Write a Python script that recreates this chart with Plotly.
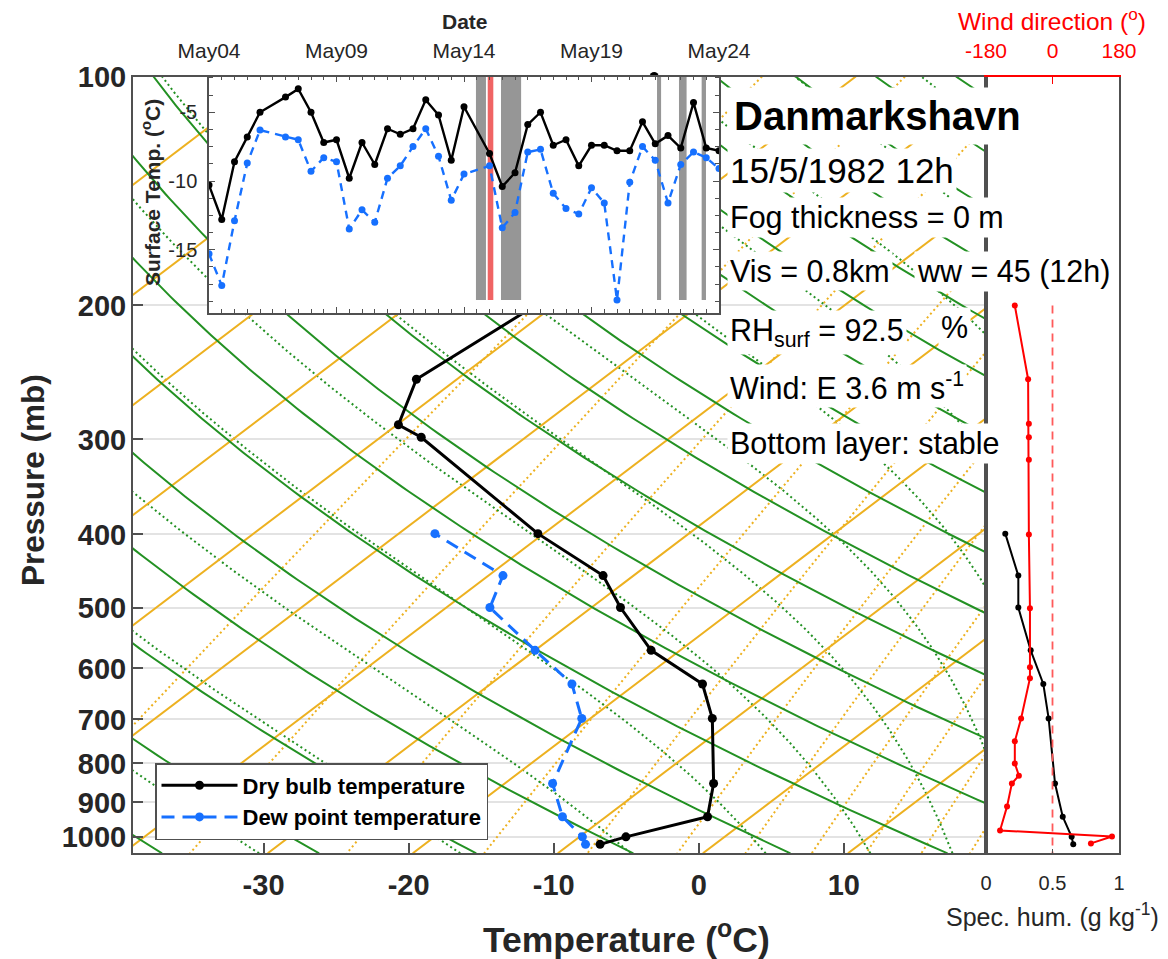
import numpy as np
import plotly.graph_objects as go

FIG_W, FIG_H = 1168, 959
FONT = "Liberation Sans, Arial, Helvetica, sans-serif"
INK = "#262626"
FRAME = "#505050"
ORANGE = "#EDB120"
GREEN = "#239123"
BLUE = "#1670FF"

# ---------------- radiosonde profile, Danmarkshavn 15/5/1982 12h ----------------
P_TEMP = [1022, 999, 940, 850, 698, 629, 568, 499, 453, 399, 298, 287, 250, 200, 100]
T_TEMP = [-7.9, -6.8, -3.0, -5.6, -11.6, -15.4, -22.0, -28.0, -32.1, -40.4, -57.2, -59.9, -62.8, -61.3, -73.9]
P_DEW = [1022, 999, 940, 850, 698, 629, 568, 499, 453, 399]
T_DEW = [-8.9, -9.8, -13.0, -16.7, -20.6, -24.4, -30.0, -37.0, -39.0, -47.5]

# specific humidity and wind direction (right-hand panel)
P_Q = [1022, 999, 940, 850, 698, 629, 568, 499, 453, 399]
Q_GKG = [0.656, 0.644, 0.577, 0.519, 0.471, 0.431, 0.336, 0.243, 0.243, 0.145]
P_WDIR = [1019, 998, 980, 911, 850, 830, 800, 748, 698, 618, 598, 500, 400, 319, 298, 286, 250, 200]
WDIR = [104, 161, -142, -123, -110, -91, -102, -102, -85, -61, -61, -61, -64, -64, -64, -64, -66, -102]

# ---------------- surface observations (inset) ----------------
OBS_TIMES = [
    "1982-05-04 00:00", "1982-05-04 12:00", "1982-05-05 00:00", "1982-05-05 12:00",
    "1982-05-06 00:00", "1982-05-07 00:00", "1982-05-07 12:00", "1982-05-08 00:00",
    "1982-05-08 12:00", "1982-05-09 00:00", "1982-05-09 12:00", "1982-05-10 00:00",
    "1982-05-10 12:00", "1982-05-11 00:00", "1982-05-11 12:00", "1982-05-12 00:00",
    "1982-05-12 12:00", "1982-05-13 00:00", "1982-05-13 12:00", "1982-05-14 00:00",
    "1982-05-15 00:00", "1982-05-15 12:00", "1982-05-16 00:00", "1982-05-16 12:00",
    "1982-05-17 00:00", "1982-05-17 12:00", "1982-05-18 00:00", "1982-05-18 12:00",
    "1982-05-19 00:00", "1982-05-19 12:00", "1982-05-20 00:00", "1982-05-20 12:00",
    "1982-05-21 00:00", "1982-05-21 12:00", "1982-05-22 00:00", "1982-05-22 12:00",
    "1982-05-23 00:00", "1982-05-23 12:00", "1982-05-24 00:00",
]
T_SURF = [-10.3, -12.8, -8.6, -6.8, -5.0, -3.9, -3.3, -5.0, -7.2, -7.0, -9.8, -7.2, -8.8,
          -6.2, -6.6, -6.2, -4.1, -5.2, -8.5, -4.6, -8.0, -10.4, -9.4, -5.9, -5.0, -7.4,
          -7.0, -8.9, -7.4, -7.4, -7.8, -7.8, -5.7, -7.3, -6.7, -7.6, -4.3, -7.6, -7.8]
TD_SURF = [-15.3, -17.6, -12.9, -8.7, -6.3, -6.8, -7.0, -9.3, -8.3, -8.6, -13.5, -12.1, -13.0,
           -9.8, -8.9, -7.5, -6.2, -8.2, -11.4, -9.5, -8.9, -13.4, -12.3, -7.9, -7.7, -10.9,
           -12.0, -12.4, -10.5, -11.6, -18.65, -10.1, -7.5, -8.5, -11.6, -8.8, -7.9, -8.3, -9.1]
FOG_SPANS = [
    ("1982-05-14 11:15", "1982-05-14 20:40"),
    ("1982-05-15 10:50", "1982-05-16 05:45"),
    ("1982-05-21 13:40", "1982-05-21 17:30"),
    ("1982-05-22 10:20", "1982-05-22 17:30"),
    ("1982-05-23 07:40", "1982-05-23 11:45"),
]
CURRENT_SPAN = ("1982-05-14 22:20", "1982-05-15 03:35")
DATE_TICKS = ["1982-05-04", "1982-05-09", "1982-05-14", "1982-05-19", "1982-05-24"]
DATE_LABELS = ["May04", "May09", "May14", "May19", "May24"]
SURF_T_RANGE = [-19.6, -2.4]
SURF_T_TICKS = [-15, -10, -5]

# ---------------- skew-T geometry and reference lines ----------------
K_SKEW = 30.0      # horizontal shift (degC) per e-fold of pressure
P_REF = 1060.0
P_TOP, P_BOT = 100.0, 1050.0
X_RANGE = [-39.0, 19.8]
P_TICKS = [100, 200, 300, 400, 500, 600, 700, 800, 900, 1000]
T_TICKS = [-30, -20, -10, 0, 10]
WDIR_TICKS = [-180, 0, 180]
ISOTHERMS_C = list(range(-140, 50, 10))
THETA_K = [232.6 + 10.68 * i for i in range(-3, 20)]          # dry adiabats
THETA_E_K = [270.7 + 15.4 * i for i in range(-4, 12)]          # saturated adiabats
MIXING_GKG = [0.05, 0.18, 0.5, 1.13, 2, 3.2, 4.5, 6.2, 8, 10.3, 12.8, 16]

RD, CP, LV, EPS = 287.04, 1005.7, 2.501e6, 0.622


def skew(t_c, p):
    return np.asarray(t_c) + K_SKEW * np.log(P_REF / np.asarray(p, dtype=float))


P_LINE = np.exp(np.linspace(np.log(P_TOP), np.log(P_BOT), 160))


def sat_vp(t_c):
    return 6.112 * np.exp(17.67 * t_c / (t_c + 243.5))


def sat_mr(t_c, p):
    es = sat_vp(t_c)
    return EPS * es / max(p - es, 1e-3)


def theta_e(t_c, p):
    tk = t_c + 273.15
    return tk * (1000.0 / p) ** 0.2857 * np.exp(LV * sat_mr(t_c, p) / (CP * tk))


def t_from_theta_e(the, p):
    lo, hi = -100.0, 60.0
    for _ in range(60):
        mid = 0.5 * (lo + hi)
        if theta_e(mid, p) < the:
            lo = mid
        else:
            hi = mid
    return 0.5 * (lo + hi)


def moist_rate(t_k, p):
    rs = sat_mr(t_k - 273.15, p)
    return (RD * t_k + LV * rs) / (CP + LV * LV * rs * EPS / (RD * t_k * t_k))


def moist_adiabat(t0_c):
    lnp = np.linspace(np.log(P_BOT), np.log(P_TOP), 300)
    t = t0_c + 273.15
    out = [t]
    for a, b in zip(lnp[:-1], lnp[1:]):
        h = b - a
        k1 = moist_rate(t, np.exp(a))
        k2 = moist_rate(t + h * k1 / 2, np.exp(a + h / 2))
        k3 = moist_rate(t + h * k2 / 2, np.exp(a + h / 2))
        k4 = moist_rate(t + h * k3, np.exp(b))
        t = t + h * (k1 + 2 * k2 + 2 * k3 + k4) / 6
        out.append(t)
    return np.exp(lnp), np.array(out) - 273.15


def join(curves):
    xs, ys = [], []
    for x, y in curves:
        xs += list(x) + [None]
        ys += list(y) + [None]
    return xs, ys


def labels(vals):
    return [f"{v:g}" for v in vals]


iso = join([(skew(np.full_like(P_LINE, t0), P_LINE), P_LINE) for t0 in ISOTHERMS_C])
dry = join([(skew(th * (P_LINE / 1000.0) ** 0.2857 - 273.15, P_LINE), P_LINE) for th in THETA_K])
moist_curves = []
for the in THETA_E_K:
    pm, tm = moist_adiabat(t_from_theta_e(the, P_BOT))
    moist_curves.append((skew(tm, pm), pm))
moist = join(moist_curves)
mix_curves = []
for w in MIXING_GKG:
    e = (w / 1000.0) * P_LINE / (EPS + w / 1000.0)
    le = np.log(e / 6.112)
    tw = 243.5 * le / (17.67 - le)
    mix_curves.append((skew(tw, P_LINE), P_LINE))
mix = join(mix_curves)

fig = go.Figure()
line_kw = dict(mode="lines", hoverinfo="skip", showlegend=False, xaxis="x", yaxis="y")
fig.add_trace(go.Scatter(x=mix[0], y=mix[1], line=dict(color=ORANGE, width=2, dash="2px,3px"), **line_kw))
fig.add_trace(go.Scatter(x=moist[0], y=moist[1], line=dict(color=GREEN, width=2, dash="2px,3px"), **line_kw))
fig.add_trace(go.Scatter(x=iso[0], y=iso[1], line=dict(color=ORANGE, width=2), **line_kw))
fig.add_trace(go.Scatter(x=dry[0], y=dry[1], line=dict(color=GREEN, width=2), **line_kw))

fig.add_trace(go.Scatter(
    x=skew(T_TEMP, P_TEMP), y=P_TEMP, mode="lines+markers", name="Dry bulb temperature",
    line=dict(color="black", width=3), marker=dict(color="black", size=9),
    cliponaxis=False, xaxis="x", yaxis="y"))
fig.add_trace(go.Scatter(
    x=skew(T_DEW, P_DEW), y=P_DEW, mode="lines+markers", name="Dew point temperature",
    line=dict(color=BLUE, width=3, dash="13px,8px"), marker=dict(color=BLUE, size=9),
    xaxis="x", yaxis="y"))

# inset: surface temperature and dew point time series
fig.add_trace(go.Scatter(
    x=OBS_TIMES, y=T_SURF, mode="lines+markers", showlegend=False,
    line=dict(color="black", width=2.4), marker=dict(color="black", size=7),
    xaxis="x2", yaxis="y2"))
fig.add_trace(go.Scatter(
    x=OBS_TIMES, y=TD_SURF, mode="lines+markers", showlegend=False,
    line=dict(color=BLUE, width=2.4, dash="8px,6px"), marker=dict(color=BLUE, size=7),
    xaxis="x2", yaxis="y2"))

# right panel: specific humidity and wind direction
fig.add_trace(go.Scatter(
    x=Q_GKG, y=P_Q, mode="lines+markers", showlegend=False,
    line=dict(color="black", width=2), marker=dict(color="black", size=6),
    xaxis="x3", yaxis="y3"))
fig.add_trace(go.Scatter(
    x=[0, 0], y=[200, P_BOT], mode="lines", showlegend=False,
    line=dict(color="#FF5A5A", width=1.8, dash="8px,6px"), xaxis="x4", yaxis="y3"))
fig.add_trace(go.Scatter(
    x=WDIR, y=P_WDIR, mode="lines+markers", showlegend=False,
    line=dict(color="#FF0000", width=2), marker=dict(color="#FF0000", size=6),
    xaxis="x4", yaxis="y3"))

shapes = [dict(type="rect", xref="x2", yref="y2", x0=DATE_TICKS[0], x1=DATE_TICKS[-1],
               y0=SURF_T_RANGE[0], y1=SURF_T_RANGE[1], fillcolor="white",
               line=dict(width=0), layer="below")]
for a, b in FOG_SPANS:
    shapes.append(dict(type="rect", xref="x2", yref="y2", x0=a, x1=b, y0=min(TD_SURF),
                       y1=SURF_T_RANGE[1], fillcolor="#969696", line=dict(width=0), layer="below"))
shapes.append(dict(type="rect", xref="x2", yref="y2", x0=CURRENT_SPAN[0], x1=CURRENT_SPAN[1],
                   y0=min(TD_SURF), y1=SURF_T_RANGE[1], fillcolor="#F06464",
                   line=dict(width=0), layer="below"))


def px(x):
    return x / FIG_W


def py(y):
    return 1 - y / FIG_H


def ann(text, x, y, size, color=INK, bold=False, angle=0, xanchor="center", bg=None, pad=1):
    d = dict(text=text, x=px(x), y=py(y), xref="paper", yref="paper", showarrow=False,
             xanchor=xanchor, yanchor="middle", textangle=angle,
             font=dict(family=FONT, size=size, color=color, weight="bold" if bold else "normal"),
             borderpad=pad)
    if bg:
        d["bgcolor"] = bg
    return d


BODY = 30.5
annotations = [
    ann("Pressure (mb)", 33, 480, 31.5, bold=True, angle=-90),
    ann("Temperature (<sup>o</sup>C)", 626, 937, 35.5, bold=True),
    ann("Date", 465, 22, 21, bold=True),
    ann("Surface Temp. (<sup>o</sup>C)", 151, 193, 21, bold=True, angle=-90),
    ann("Spec. hum. (g kg<sup>-1</sup>)", 1052, 915, 25),
    ann("Wind direction (<sup>o</sup>)", 1052, 20, 24.5, color="#FF0000"),
    ann("<b>Danmarkshavn</b>", 727, 116, 40, color="black", xanchor="left", bg="white", pad=6),
    ann("15/5/1982 12h", 727, 170, 35, color="black", xanchor="left", bg="white", pad=2),
    ann("Fog thickness = 0 m", 727, 218, BODY, color="black", xanchor="left", bg="white", pad=2),
    ann("Vis = 0.8km", 727, 271, BODY, color="black", xanchor="left", bg="white", pad=2),
    ann("ww = 45 (12h)", 914, 271, BODY, color="black", xanchor="left", bg="white", pad=2),
    ann("RH<sub>surf</sub> = 92.5", 727, 332, BODY, color="black", xanchor="left", bg="white", pad=2),
    ann("%", 938, 327, BODY, color="black", xanchor="left", bg="white", pad=2),
    ann("Wind: E 3.6 m s<sup>-1</sup>", 727, 386, BODY, color="black", xanchor="left", bg="white", pad=2),
    ann("Bottom layer: stable", 727, 443, BODY, color="black", xanchor="left", bg="white", pad=2),
]

y_dom = [py(853.3), py(76.5)]
fig.update_layout(
    width=FIG_W, height=FIG_H, margin=dict(l=0, r=0, t=0, b=0, autoexpand=False),
    paper_bgcolor="white", plot_bgcolor="white",
    font=dict(family=FONT, color=INK),
    shapes=shapes, annotations=annotations,
    legend=dict(x=px(155), y=py(763), xanchor="left", yanchor="top", bgcolor="white",
                bordercolor=FRAME, borderwidth=1.5, itemwidth=76, tracegroupgap=0,
                font=dict(family=FONT, size=22, color="black", weight="bold")),
    xaxis=dict(domain=[px(133), px(986)], range=X_RANGE, anchor="y", tickvals=T_TICKS,
               ticktext=labels(T_TICKS), automargin=False,
               ticks="inside", ticklen=10, tickwidth=1.5, tickcolor=FRAME, showgrid=False,
               zeroline=False, showline=True, linecolor=FRAME, linewidth=2, mirror=True,
               ticklabelstandoff=5,
               tickfont=dict(family=FONT, size=29, color=INK, weight="bold")),
    yaxis=dict(domain=y_dom, type="log", range=[np.log10(P_BOT), np.log10(P_TOP)], anchor="x",
               tickvals=P_TICKS, ticktext=labels(P_TICKS), automargin=False,
               ticks="inside", ticklen=10,
               tickwidth=1.5, tickcolor=FRAME, showgrid=True, gridcolor="#E3E3E3", gridwidth=1.5,
               zeroline=False, showline=True, linecolor=FRAME, linewidth=2, mirror=True,
               ticklabelstandoff=-1,
               tickfont=dict(family=FONT, size=29, color=INK, weight="bold")),
    xaxis2=dict(domain=[px(209), px(719)], type="date", range=[DATE_TICKS[0], DATE_TICKS[-1]],
                anchor="y2", side="top", tickvals=DATE_TICKS, ticktext=DATE_LABELS,
                automargin=False,
                ticks="inside", ticklen=6, tickcolor=FRAME, showgrid=False, zeroline=False,
                showline=True, linecolor=FRAME, linewidth=1.5, mirror="ticks",
                minor=dict(dtick=12 * 3600 * 1000, tick0=DATE_TICKS[0], ticks="inside",
                           ticklen=4, tickcolor=FRAME, showgrid=False),
                ticklabelstandoff=8,
                tickfont=dict(family=FONT, size=21, color=INK)),
    yaxis2=dict(domain=[py(313), py(76.5)], range=SURF_T_RANGE, anchor="x2",
                tickvals=SURF_T_TICKS, ticktext=labels(SURF_T_TICKS), automargin=False,
                ticks="inside", ticklen=6, tickcolor=FRAME,
                showgrid=False, zeroline=False, showline=True, linecolor=FRAME, linewidth=1.5,
                mirror="ticks",
                minor=dict(dtick=1.25, tick0=-15, ticks="inside", ticklen=4, tickcolor=FRAME,
                           showgrid=False),
                ticklabelstandoff=6,
                tickfont=dict(family=FONT, size=20, color=INK)),
    xaxis3=dict(domain=[px(986), px(1119)], range=[0, 1], anchor="y3", tickvals=[0, 0.5, 1],
                ticktext=["0", "0.5", "1"], ticks="inside", ticklen=4, tickcolor=FRAME,
                automargin=False,
                showgrid=False, zeroline=False, showline=True, linecolor=FRAME, linewidth=2,
                ticklabelstandoff=11,
                tickfont=dict(family=FONT, size=20, color=INK)),
    yaxis3=dict(domain=y_dom, type="log", range=[np.log10(P_BOT), np.log10(P_TOP)], anchor="x3",
                automargin=False,
                showticklabels=False, ticks="", showgrid=False, zeroline=False, showline=True,
                linecolor=FRAME, linewidth=2, mirror=True),
    xaxis4=dict(overlaying="x3", side="top", range=[-180, 180], anchor="y3",
                tickvals=WDIR_TICKS, ticktext=labels(WDIR_TICKS), automargin=False,
                ticks="inside", ticklen=7, tickcolor="#FF0000",
                showgrid=False, zeroline=False, showline=True, linecolor="#FF0000", linewidth=2,
                ticklabelstandoff=8,
                tickfont=dict(family=FONT, size=21, color="#FF0000")),
)

fig.write_html("out.html")
